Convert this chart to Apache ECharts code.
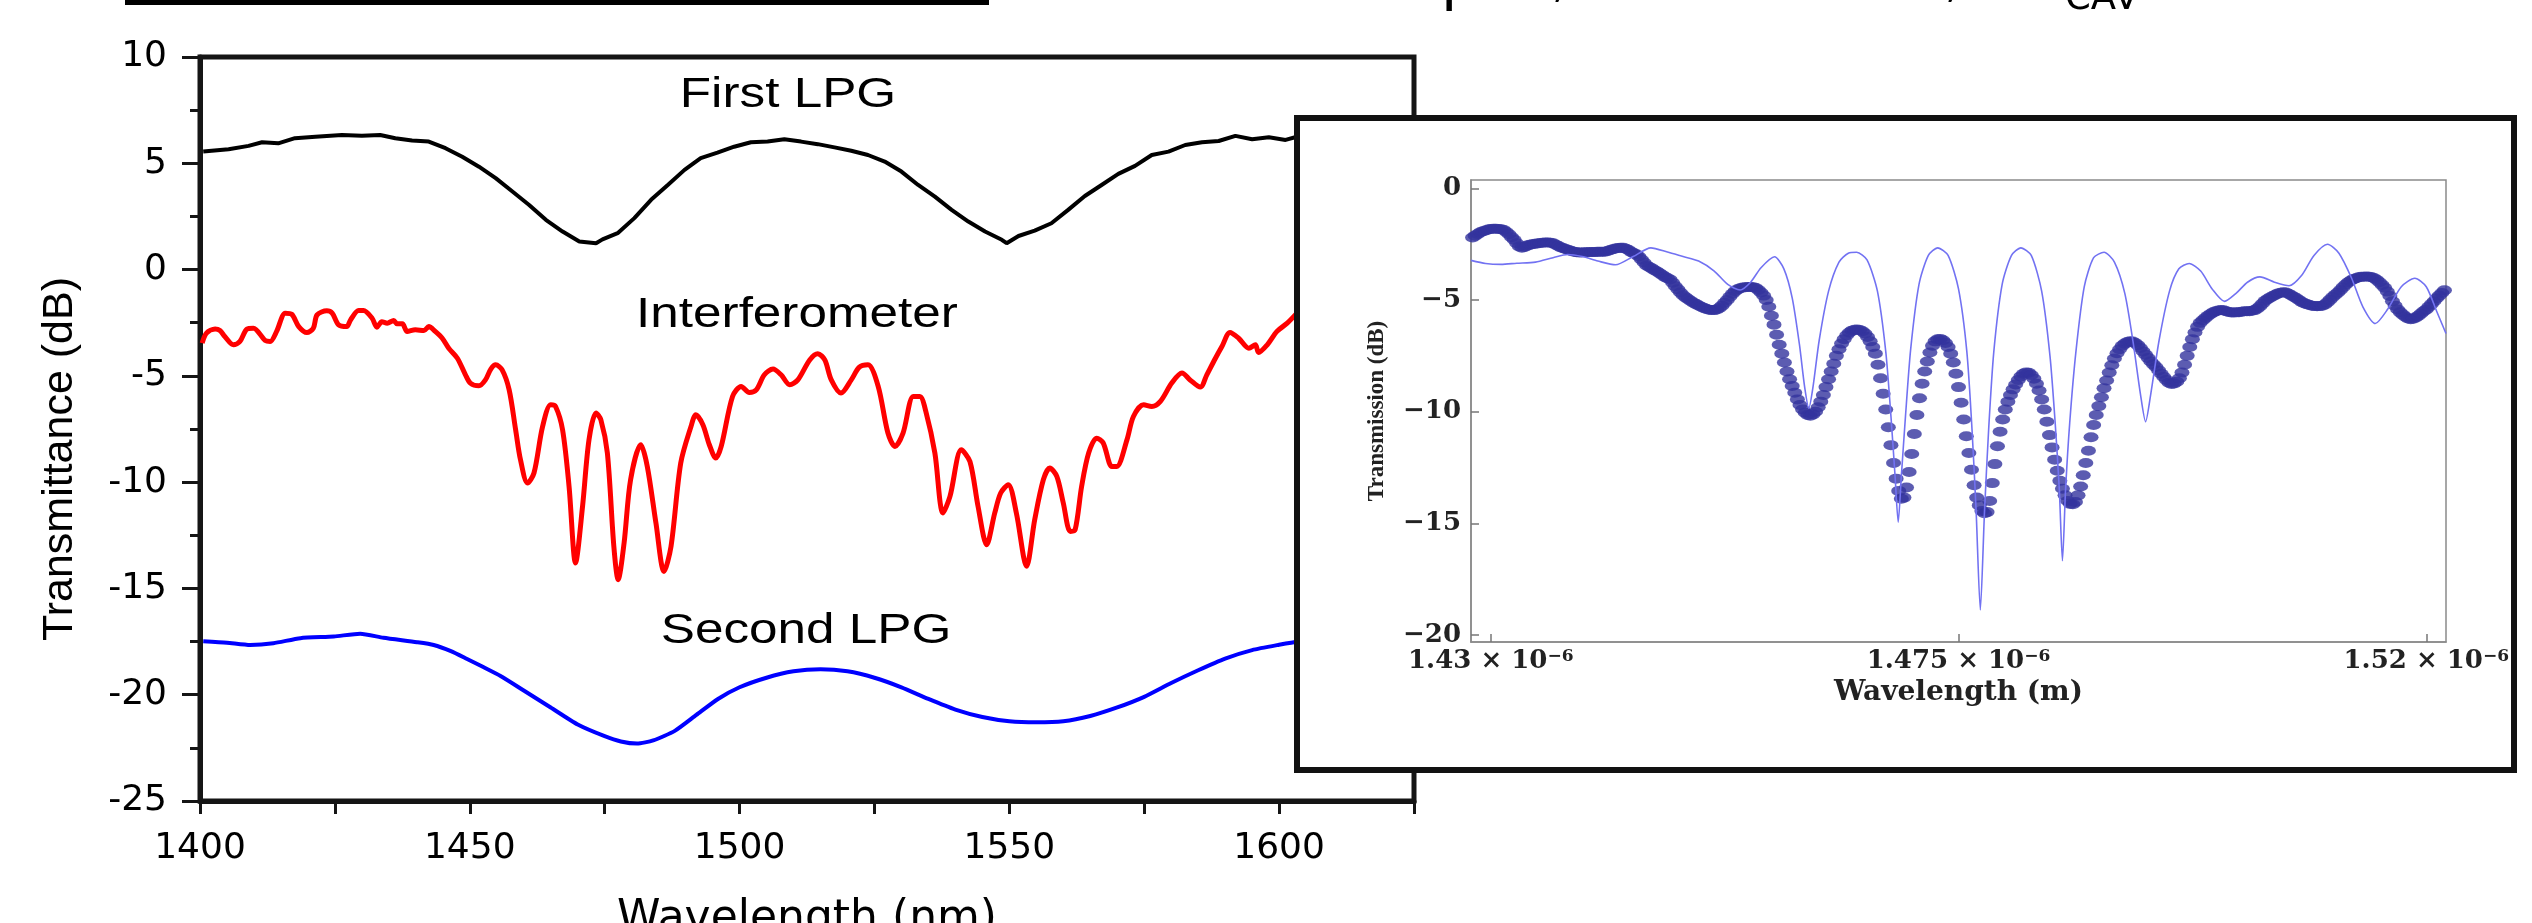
<!DOCTYPE html>
<html>
<head>
<meta charset="utf-8">
<script src="https://cdn.jsdelivr.net/npm/echarts@6/dist/echarts.min.js"></script>
<style>html,body{margin:0;padding:0;background:#fff;overflow:hidden}#c{width:2532px;height:923px}</style>
</head>
<body>
<div id="c"></div>
<script>
// ---------- main chart data (wavelength nm, transmittance dB) ----------
const firstLPG = [[1400.6,5.55],[1405.3,5.66],[1409.0,5.82],[1411.5,5.99],[1414.5,5.94],[1417.6,6.18],[1421.4,6.25],[1426.3,6.33],[1430.0,6.30],[1433.4,6.33],[1436.2,6.18],[1439.3,6.07],[1442.4,6.02],[1445.5,5.71],[1448.6,5.31],[1451.7,4.84],[1454.8,4.30],[1457.9,3.67],[1461.0,3.04],[1464.1,2.34],[1467.2,1.79],[1470.3,1.32],[1473.4,1.24],[1474.6,1.42],[1477.4,1.71],[1480.5,2.42],[1483.6,3.28],[1486.7,3.98],[1489.8,4.69],[1492.8,5.24],[1495.9,5.50],[1499.0,5.78],[1502.1,5.99],[1505.2,6.02],[1508.3,6.13],[1511.4,6.02],[1514.5,5.90],[1517.6,5.75],[1520.7,5.59],[1523.8,5.39],[1526.9,5.08],[1530.0,4.61],[1533.1,3.98],[1536.2,3.43],[1539.3,2.81],[1542.4,2.26],[1545.5,1.79],[1548.6,1.40],[1549.5,1.24],[1551.7,1.58],[1554.7,1.83],[1557.8,2.18],[1560.9,2.81],[1564.0,3.46],[1567.1,3.98],[1570.2,4.50],[1573.3,4.88],[1576.4,5.39],[1579.5,5.55],[1582.6,5.86],[1585.7,5.99],[1588.8,6.05],[1591.9,6.29],[1595.0,6.13],[1598.1,6.22],[1601.2,6.10],[1603.3,6.25]];

const interferometer = [[1400.4,-3.46],[1401.2,-2.99],[1402.8,-2.80],[1403.7,-2.87],[1404.6,-3.15],[1406.2,-3.54],[1407.4,-3.38],[1408.7,-2.80],[1409.9,-2.76],[1412.1,-3.34],[1413.0,-3.38],[1414.2,-2.91],[1415.8,-2.05],[1417.0,-2.10],[1418.3,-2.68],[1419.8,-2.96],[1421.0,-2.76],[1421.7,-2.13],[1423.5,-1.94],[1424.5,-2.05],[1425.7,-2.60],[1427.2,-2.68],[1427.9,-2.37],[1429.4,-1.93],[1430.3,-1.93],[1431.9,-2.29],[1432.8,-2.71],[1433.7,-2.45],[1434.7,-2.52],[1435.9,-2.40],[1436.5,-2.55],[1437.5,-2.55],[1438.4,-2.91],[1439.9,-2.83],[1441.5,-2.87],[1442.4,-2.68],[1443.6,-2.91],[1444.9,-3.23],[1446.1,-3.70],[1447.7,-4.17],[1449.2,-4.95],[1450.1,-5.34],[1451.7,-5.47],[1452.9,-5.19],[1453.9,-4.68],[1454.8,-4.48],[1456.0,-4.72],[1457.3,-5.66],[1458.5,-7.54],[1459.4,-8.95],[1460.7,-10.04],[1461.9,-9.57],[1463.5,-7.38],[1465.0,-6.36],[1465.9,-6.44],[1467.2,-7.54],[1468.4,-10.2],[1469.6,-13.8],[1470.9,-11.14],[1472.1,-8.0],[1473.4,-6.75],[1474.3,-7.07],[1475.5,-8.63],[1476.7,-13.02],[1477.5,-14.59],[1478.6,-12.86],[1479.8,-9.89],[1481.7,-8.24],[1482.9,-9.26],[1484.5,-11.92],[1486.0,-14.20],[1487.3,-13.02],[1489.1,-9.10],[1491.0,-7.38],[1491.9,-6.83],[1493.2,-7.30],[1494.4,-8.24],[1495.6,-8.87],[1496.6,-8.32],[1498.7,-5.97],[1500.3,-5.50],[1501.8,-5.78],[1503.1,-5.66],[1504.6,-4.95],[1506.2,-4.68],[1507.7,-4.95],[1509.3,-5.42],[1510.8,-5.19],[1513.0,-4.25],[1514.5,-3.96],[1515.8,-4.25],[1517.0,-5.19],[1518.8,-5.81],[1520.7,-5.19],[1522.2,-4.59],[1523.8,-4.48],[1525.7,-5.50],[1527.5,-7.69],[1528.8,-8.32],[1530.3,-7.69],[1532.2,-5.97],[1533.4,-5.97],[1534.6,-6.75],[1536.2,-8.63],[1537.7,-11.45],[1539.0,-10.67],[1541.1,-8.48],[1542.7,-9.03],[1544.2,-11.14],[1545.8,-12.94],[1547.3,-11.45],[1548.4,-10.51],[1549.8,-10.12],[1551.3,-11.45],[1553.2,-13.96],[1554.7,-11.77],[1556.3,-9.89],[1557.5,-9.34],[1558.8,-9.73],[1560.0,-10.98],[1561.3,-12.32],[1562.2,-12.24],[1563.4,-10.20],[1564.7,-8.63],[1566.2,-7.93],[1567.4,-8.16],[1569.0,-9.26],[1569.9,-9.26],[1571.8,-8.01],[1573.0,-6.91],[1574.9,-6.36],[1576.4,-6.44],[1578.0,-6.20],[1580.1,-5.34],[1582.0,-4.87],[1583.5,-5.19],[1585.4,-5.53],[1586.6,-4.95],[1588.2,-4.17],[1589.4,-3.62],[1590.9,-2.96],[1592.5,-3.23],[1594.4,-3.70],[1595.6,-3.54],[1596.2,-3.90],[1597.8,-3.54],[1599.6,-2.91],[1601.5,-2.52],[1603.3,-2.05]];

const secondLPG = [[1400.6,-17.48],[1405.0,-17.55],[1409.3,-17.66],[1413.6,-17.58],[1418.6,-17.34],[1424.8,-17.26],[1429.7,-17.13],[1434.0,-17.32],[1440.2,-17.53],[1443.3,-17.66],[1446.5,-17.95],[1449.5,-18.32],[1452.5,-18.70],[1455.7,-19.12],[1460.0,-19.80],[1465.0,-20.60],[1470.0,-21.40],[1475.0,-21.95],[1478.0,-22.20],[1481.0,-22.30],[1484.0,-22.15],[1488.0,-21.70],[1492.0,-20.95],[1496.0,-20.20],[1500.0,-19.65],[1505.0,-19.20],[1510.0,-18.90],[1515.0,-18.80],[1520.0,-18.90],[1525.0,-19.20],[1530.0,-19.65],[1535.0,-20.20],[1540.0,-20.70],[1545.0,-21.05],[1550.0,-21.25],[1555.0,-21.30],[1560.0,-21.25],[1565.0,-21.00],[1570.0,-20.60],[1575.0,-20.10],[1580.0,-19.45],[1585.0,-18.85],[1590.0,-18.30],[1595.0,-17.90],[1600.0,-17.65],[1603.5,-17.50]];

const mainXTicks = [1400, 1450, 1500, 1550, 1600];
const curveNames = ['First LPG', 'Interferometer', 'Second LPG'];

// ---------- inset data (wavelength in nm, shown as m × 10^-6) ----------
const insetSimulation = [[1428.1,-3.22],[1429.5,-3.36],[1431.0,-3.40],[1432.5,-3.35],[1434.3,-3.30],[1436.0,-3.10],[1437.4,-2.96],[1438.8,-3.05],[1440.3,-3.25],[1442.0,-3.42],[1443.7,-3.05],[1445.4,-2.66],[1447.0,-2.85],[1448.5,-3.05],[1450.0,-3.25],[1451.5,-3.70],[1452.8,-4.30],[1454.0,-4.55],[1455.0,-4.20],[1456.0,-3.55],[1457.3,-3.06],[1458.2,-3.6],[1459.0,-4.9],[1459.7,-7.0],[1460.2,-8.9],[1460.6,-9.85],[1461.0,-8.9],[1461.6,-6.8],[1462.5,-4.6],[1463.5,-3.3],[1464.4,-2.9],[1465.2,-2.86],[1466.2,-3.2],[1467.2,-4.6],[1468.0,-7.3],[1468.5,-10.2],[1468.9,-12.9],[1469.2,-14.95],[1469.5,-12.9],[1469.9,-10.2],[1470.4,-7.2],[1471.2,-4.3],[1472.1,-3.0],[1473.0,-2.66],[1474.0,-3.0],[1475.0,-4.5],[1475.8,-7.3],[1476.3,-10.8],[1476.7,-14.5],[1477.1,-18.88],[1477.5,-14.5],[1477.9,-10.8],[1478.4,-7.3],[1479.2,-4.3],[1480.1,-3.0],[1481.0,-2.66],[1482.0,-3.0],[1483.0,-4.6],[1483.8,-7.5],[1484.3,-10.5],[1484.7,-13.5],[1485.0,-16.68],[1485.3,-13.5],[1485.7,-10.5],[1486.3,-7.3],[1487.1,-4.4],[1488.0,-3.1],[1489.0,-2.86],[1490.0,-3.3],[1491.0,-4.7],[1491.8,-6.9],[1492.5,-9.2],[1493.0,-10.45],[1493.5,-9.2],[1494.3,-6.8],[1495.3,-4.6],[1496.2,-3.6],[1497.2,-3.36],[1498.3,-3.7],[1499.4,-4.5],[1500.6,-5.06],[1501.7,-4.7],[1502.8,-4.2],[1504.0,-3.96],[1505.4,-4.2],[1506.8,-4.36],[1508.0,-3.9],[1509.2,-3.0],[1510.5,-2.50],[1511.6,-2.9],[1512.8,-4.0],[1513.9,-5.3],[1515.1,-6.05],[1516.3,-5.4],[1517.6,-4.4],[1518.9,-4.02],[1520.0,-4.4],[1521.0,-5.5],[1521.9,-6.5]];

// measured points: each row = [whole nm, value at +0, +0.25, +0.5, +0.75 nm]
const insetMeasuredRows = [
[1428,-2.28,-2.20,-2.12,-2.04],[1429,-1.96,-1.92,-1.88,-1.84],[1430,-1.81,-1.80,-1.80,-1.81],[1431,-1.83,-1.86,-1.95,-2.05],
[1432,-2.18,-2.30,-2.45,-2.60],[1433,-2.65,-2.62,-2.56,-2.52],[1434,-2.50,-2.48,-2.46,-2.44],[1435,-2.43,-2.42,-2.42,-2.43],
[1436,-2.45,-2.52,-2.58,-2.64],[1437,-2.68,-2.72,-2.76,-2.80],[1438,-2.83,-2.86,-2.87,-2.87],[1439,-2.86,-2.86,-2.85,-2.85],
[1440,-2.85,-2.84,-2.84,-2.83],[1441,-2.83,-2.80,-2.76,-2.72],[1442,-2.69,-2.67,-2.66,-2.66],[1443,-2.70,-2.76,-2.84,-2.90],
[1444,-2.95,-3.05,-3.18,-3.32],[1445,-3.45,-3.52,-3.58,-3.66],[1446,-3.72,-3.80,-3.88,-3.96],[1447,-4.02,-4.08,-4.22,-4.38],
[1448,-4.52,-4.66,-4.78,-4.88],[1449,-4.96,-5.04,-5.12,-5.18],[1450,-5.24,-5.30,-5.35,-5.40],[1451,-5.43,-5.45,-5.45,-5.42],
[1452,-5.35,-5.25,-5.12,-5.00],[1453,-4.85,-4.72,-4.60,-4.52],[1454,-4.47,-4.44,-4.42,-4.41],[1455,-4.41,-4.42,-4.46,-4.55],
[1456,-4.66,-4.80,-5.00,-5.30],[1457,-5.70,-6.10,-6.55,-7.00],[1458,-7.40,-7.80,-8.20,-8.55],[1459,-8.85,-9.15,-9.45,-9.70],
[1460,-9.90,-10.05,-10.15,-10.18],[1461,-10.12,-10.00,-9.80,-9.55],[1462,-9.25,-8.90,-8.55,-8.20],[1463,-7.85,-7.50,-7.20,-6.95],
[1464,-6.75,-6.58,-6.45,-6.37],[1465,-6.33,-6.32,-6.34,-6.40],[1466,-6.50,-6.65,-6.85,-7.10],[1467,-7.40,-7.90,-8.50,-9.20],
[1468,-9.90,-10.70,-11.50,-12.30],[1469,-13.00,-13.55,-13.90,-13.85],[1470,-13.40,-12.70,-11.90,-11.00],[1471,-10.15,-9.40,-8.75,-8.20],
[1472,-7.75,-7.35,-7.05,-6.85],[1473,-6.76,-6.74,-6.80,-6.92],[1474,-7.10,-7.40,-7.80,-8.30],[1475,-8.90,-9.60,-10.35,-11.10],
[1476,-11.85,-12.60,-13.30,-13.85],[1477,-14.20,-14.45,-14.55,-14.50],[1478,-14.00,-13.20,-12.35,-11.55],[1479,-10.90,-10.35,-9.90,-9.55],
[1480,-9.25,-9.00,-8.78,-8.58],[1481,-8.42,-8.30,-8.24,-8.26],[1482,-8.36,-8.52,-8.75,-9.05],[1483,-9.45,-9.90,-10.45,-11.05],
[1484,-11.60,-12.15,-12.65,-13.10],[1485,-13.45,-13.75,-14.00,-14.13],[1486,-14.15,-14.05,-13.75,-13.35],[1487,-12.85,-12.30,-11.75,-11.15],
[1488,-10.60,-10.15,-9.75,-9.35],[1489,-8.95,-8.60,-8.25,-7.92],[1490,-7.62,-7.38,-7.20,-7.05],[1491,-6.95,-6.88,-6.85,-6.86],
[1492,-6.92,-7.02,-7.15,-7.30],[1493,-7.45,-7.60,-7.75,-7.88],[1494,-8.00,-8.15,-8.30,-8.45],[1495,-8.58,-8.70,-8.76,-8.74],
[1496,-8.66,-8.50,-8.25,-7.90],[1497,-7.50,-7.10,-6.75,-6.45],[1498,-6.20,-6.02,-5.90,-5.80],[1499,-5.70,-5.62,-5.55,-5.50],
[1500,-5.47,-5.45,-5.46,-5.50],[1501,-5.53,-5.56,-5.56,-5.55],[1502,-5.54,-5.52,-5.50,-5.50],[1503,-5.50,-5.48,-5.45,-5.38],
[1504,-5.28,-5.15,-5.03,-4.95],[1505,-4.88,-4.82,-4.76,-4.70],[1506,-4.67,-4.65,-4.66,-4.72],[1507,-4.78,-4.85,-4.92,-5.00],
[1508,-5.08,-5.14,-5.18,-5.22],[1509,-5.25,-5.27,-5.28,-5.27],[1510,-5.25,-5.20,-5.10,-4.98],[1511,-4.86,-4.76,-4.66,-4.55],
[1512,-4.42,-4.30,-4.20,-4.12],[1513,-4.06,-4.02,-3.98,-3.96],[1514,-3.95,-3.94,-3.95,-3.98],[1515,-4.02,-4.10,-4.20,-4.32],
[1516,-4.45,-4.62,-4.82,-5.05],[1517,-5.25,-5.42,-5.55,-5.66],[1518,-5.75,-5.82,-5.86,-5.84],[1519,-5.78,-5.70,-5.60,-5.50],
[1520,-5.42,-5.30,-5.18,-5.05],[1521,-4.92,-4.80,-4.68,-4.56],[1522,-4.48]
];
const insetXTicks = [1430, 1475, 1520];
const insetXTickLabels = ['1.43', '1.475', '1.52'];
const insetYTicks = [0, -5, -10, -15, -20];

// ---------- build ----------
const insetMeasured = [];
insetMeasuredRows.forEach(r => r.slice(1).forEach((v, i) => insetMeasured.push([r[0] + i * 0.25, v])));

const SANS = '"DejaVu Sans", sans-serif';
const ARIAL = '"Liberation Sans", Arial, sans-serif';
const SERIF = '"DejaVu Serif", serif';
const TIMES = '"Liberation Serif", "Times New Roman", serif';
const INK = '#151515';

const chart = echarts.init(document.getElementById('c'), null, {renderer: 'canvas', width: 2532, height: 923});

function txt(text, x, y, size, family, opts) {
  return Object.assign({
    type: 'text', x: x, y: y, z: 30,
    style: {text: text, fontSize: size, fontFamily: family, fill: '#000',
            align: 'center', textAlign: 'center', verticalAlign: 'middle', textVerticalAlign: 'middle'}
  }, opts || {});
}

const option = {
  animation: false,
  backgroundColor: '#ffffff',
  grid: [
    {left: 200, top: 57, width: 1214, height: 744, show: true, borderColor: INK, borderWidth: 5,
     backgroundColor: 'transparent', outerBoundsMode: 'none', containLabel: false},
    {left: 1471, top: 180, width: 975, height: 462, show: true, borderColor: '#8a8a8a', borderWidth: 1.5,
     backgroundColor: '#ffffff', z: 11, outerBoundsMode: 'none', containLabel: false}
  ],
  xAxis: [
    {type: 'value', gridIndex: 0, min: 1400, max: 1625, interval: 25,
     axisLine: {show: true, onZero: false, lineStyle: {color: INK, width: 5}},
     axisTick: {show: true, length: 13, lineStyle: {color: INK, width: 3}},
     axisLabel: {margin: 30, fontSize: 36, fontFamily: SANS, color: '#000',
                 formatter: v => mainXTicks.indexOf(v) >= 0 ? String(v) : ''},
     splitLine: {show: false},
     name: 'Wavelength (nm)', nameLocation: 'middle', nameGap: 97,
     nameTextStyle: {fontSize: 44, fontFamily: SANS, color: '#000'}},
    {type: 'value', gridIndex: 1, min: 1428.1, max: 1521.9, z: 12,
     axisLine: {show: true, onZero: false, lineStyle: {color: '#8a8a8a', width: 1.5}},
     axisTick: {show: true, inside: true, length: 8, customValues: insetXTicks, lineStyle: {color: '#777', width: 1.5}},
     axisLabel: {margin: 6, customValues: insetXTicks, color: '#222',
                 formatter: v => '{m|' + insetXTickLabels[insetXTicks.indexOf(v)] + ' × 10}{s|−6}',
                 rich: {m: {fontFamily: SERIF, fontWeight: 'bold', fontSize: 26, color: '#222'},
                        s: {fontFamily: SERIF, fontWeight: 'bold', fontSize: 17, color: '#222', verticalAlign: 'top'}}},
     splitLine: {show: false},
     name: 'Wavelength (m)', nameLocation: 'middle', nameGap: 36,
     nameTextStyle: {fontSize: 28, fontFamily: SERIF, fontWeight: 'bold', color: '#222'}}
  ],
  yAxis: [
    {type: 'value', gridIndex: 0, min: -25, max: 10, interval: 5,
     axisLine: {show: true, onZero: false, lineStyle: {color: INK, width: 5}},
     axisTick: {show: true, length: 18, lineStyle: {color: INK, width: 3}},
     minorTick: {show: true, splitNumber: 2, length: 10, lineStyle: {color: INK, width: 3}},
     axisLabel: {margin: 33, fontSize: 36, fontFamily: SANS, color: '#000'},
     splitLine: {show: false}, minorSplitLine: {show: false}},
    {type: 'value', gridIndex: 1, min: -20.32, max: 0.38, z: 12,
     axisLine: {show: true, onZero: false, lineStyle: {color: '#8a8a8a', width: 1.5}},
     axisTick: {show: true, inside: true, length: 8, customValues: insetYTicks, lineStyle: {color: '#777', width: 1.5}},
     axisLabel: {margin: 10, customValues: insetYTicks, fontSize: 26, fontFamily: SERIF, fontWeight: 'bold', color: '#222',
                 formatter: v => (v < 0 ? '−' : '') + Math.abs(v)},
     splitLine: {show: false},
     name: 'Transmission (dB)', nameLocation: 'middle', nameRotate: 90, nameGap: 82,
     nameTextStyle: {fontSize: 23, fontFamily: TIMES, fontWeight: 'bold', color: '#222'}}
  ],
  series: [
    {name: curveNames[0], type: 'line', xAxisIndex: 0, yAxisIndex: 0, data: firstLPG, showSymbol: false,
     lineStyle: {color: '#000000', width: 4}, z: 2},
    {name: curveNames[1], type: 'line', xAxisIndex: 0, yAxisIndex: 0, data: interferometer, showSymbol: false,
     smooth: 0.3, lineStyle: {color: '#ff0000', width: 5}, z: 2},
    {name: curveNames[2], type: 'line', xAxisIndex: 0, yAxisIndex: 0, data: secondLPG, showSymbol: false,
     smooth: 0.2, lineStyle: {color: '#0000ff', width: 4}, z: 2},
    {name: 'measured', type: 'scatter', xAxisIndex: 1, yAxisIndex: 1, data: insetMeasured,
     symbol: 'path://M0,10 A10,10 0 1,0 20,10 A10,10 0 1,0 0,10 Z', symbolSize: [15, 10],
     itemStyle: {color: '#33339d'}, z: 13, clip: true},
    {name: 'simulation', type: 'line', xAxisIndex: 1, yAxisIndex: 1, data: insetSimulation, showSymbol: false,
     smooth: 0.25, lineStyle: {color: '#7272f2', width: 1.6}, z: 14, clip: true}
  ],
  graphic: [
    // cropped remnants at the top edge of the figure
    {type: 'rect', z: 30, shape: {x: 125, y: 0, width: 864, height: 5}, style: {fill: '#000'}},
    txt('p', 1441, -18, 60, SANS, {style: {text: 'p', fontSize: 60, fontFamily: SANS, fill: '#000', align: 'left', textAlign: 'left', verticalAlign: 'middle', textVerticalAlign: 'middle'}}),
    txt(',', 1559, -14, 44, SANS),
    txt(',', 1952, -14, 44, SANS),
    txt('CAV', 2102, -1, 37, SANS),
    // curve annotations
    txt(curveNames[0], 788, 95, 42, ARIAL, {scaleX: 1.22}),
    txt(curveNames[1], 797, 315, 42, ARIAL, {scaleX: 1.22}),
    txt(curveNames[2], 806, 631, 42, ARIAL, {scaleX: 1.22}),
    // main y-axis title
    txt('Transmittance (dB)', 60, 459, 43, ARIAL, {rotation: Math.PI / 2}),
    // inset frame (pasted figure)
    {type: 'rect', z: 10, shape: {x: 1297, y: 118, width: 1217, height: 652},
     style: {fill: '#ffffff', stroke: '#111111', lineWidth: 6}}
  ]
};
chart.setOption(option);
</script>
</body>
</html>
